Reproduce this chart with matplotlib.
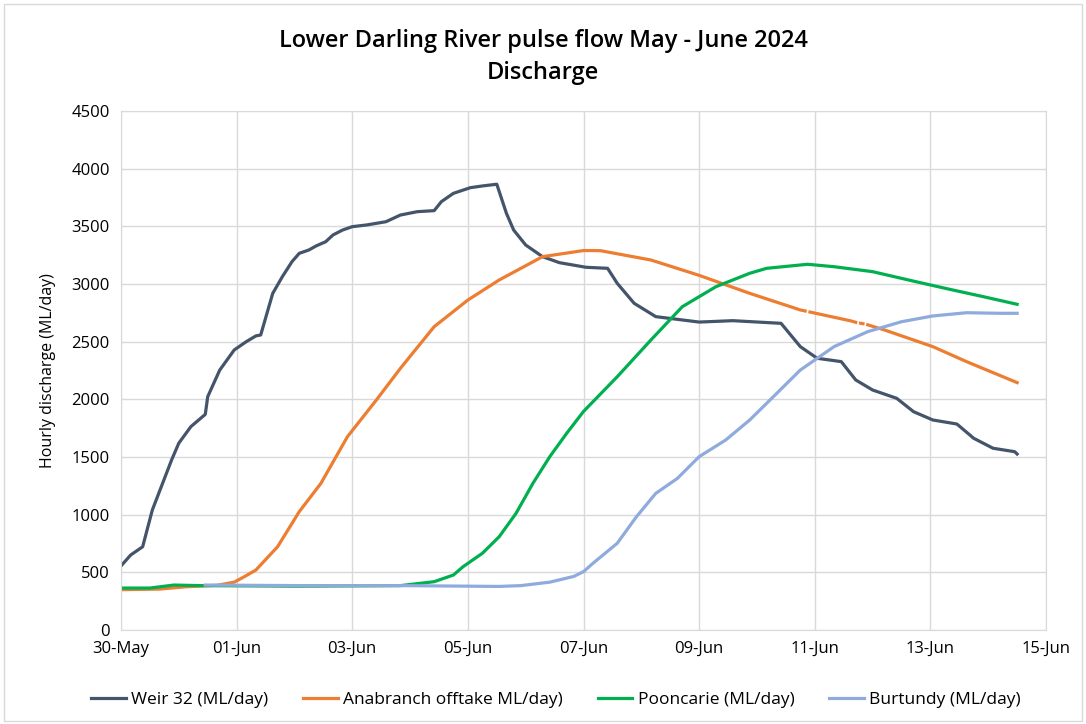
import matplotlib
matplotlib.use("Agg")
import matplotlib.pyplot as plt
import matplotlib.dates as mdates
from matplotlib.patches import Rectangle
import numpy as np
import pandas as pd

# hours after 30-May-2024 00:00, values in ML/day
weir_hours = [0, 4, 9, 13, 21, 24, 29, 35, 36, 41, 47, 52, 56, 58, 61, 63, 67, 71, 74, 78,
              81, 85, 88, 92, 96, 102, 110, 116, 123, 130, 133, 138, 145, 150, 156, 160, 163,
              168, 175, 182, 193, 202, 206, 213, 222, 240, 254, 274, 282, 289, 299, 305, 312,
              322, 329, 337, 347, 354, 362, 371, 372]
weir_vals = [555, 650, 722, 1040, 1474, 1620, 1763, 1870, 2023, 2254, 2428, 2500, 2550, 2558,
             2775, 2919, 3064, 3194, 3266, 3295, 3330, 3367, 3425, 3468, 3497, 3512, 3540,
             3598, 3627, 3636, 3714, 3786, 3835, 3850, 3865, 3613, 3468, 3338, 3237, 3185,
             3145, 3136, 3006, 2833, 2717, 2670, 2682, 2659, 2457, 2356, 2327, 2168, 2081,
             2009, 1893, 1821, 1786, 1662, 1576, 1546, 1526]

# NaN = missing hours in the offtake record
ana_hours = [0, 16, 27, 40, 47, 51, 56, 65, 74, 83, 94, 106, 116, 130, 144, 157, 175, 192,
             199, 220, 240, 261, 282, 284, 285, 286, 303, 305, 306, 307, 308, 309, 310, 317,
             337, 351, 372]
ana_vals = [350, 355, 375, 388, 415, 460, 520, 722, 1026, 1272, 1676, 1994, 2269, 2630, 2861,
            3035, 3237, 3290, 3289, 3208, 3075, 2919, 2775, 2766, np.nan, 2757, 2680, 2668,
            np.nan, 2660, 2656, np.nan, 2646, 2601, 2457, 2327, 2145]

poon_hours = [0, 12, 22, 33, 74, 116, 130, 138, 142, 150, 157, 164, 171, 178, 185, 192, 206,
              220, 233, 247, 261, 268, 285, 296, 312, 330, 344, 358, 372]
poon_vals = [364, 364, 390, 385, 380, 385, 419, 477, 549, 665, 809, 1012, 1272, 1503, 1705,
             1895, 2196, 2515, 2803, 2977, 3093, 3136, 3171, 3150, 3107, 3020, 2954, 2890, 2824]

burt_hours = [35, 74, 116, 157, 166, 178, 188, 192, 196, 206, 214, 222, 231, 240, 251, 261,
              268, 282, 296, 310, 324, 337, 351, 365, 372]
burt_vals = [390, 385, 385, 378, 385, 415, 465, 506, 580, 752, 983, 1185, 1315, 1503, 1647,
             1821, 1965, 2254, 2457, 2587, 2673, 2723, 2751, 2746, 2746]

start = pd.Timestamp("2024-05-30")


def to_time(hours):
    return start + pd.to_timedelta(hours, unit="h")


plt.rcParams['font.family'] = ['Open Sans', 'DejaVu Sans']

fig = plt.figure(figsize=(10.86, 7.24), dpi=100)
ax = fig.add_axes([0.1114, 0.1298, 0.8518, 0.7169])

fig.patches.append(Rectangle((0.004, 0.004), 0.992, 0.990, transform=fig.transFigure,
                             fill=False, edgecolor="#D9D9D9", linewidth=1.0))

ax.plot(to_time(weir_hours), weir_vals, color="#44546A", lw=2.3, label="Weir 32 (ML/day)")
ax.plot(to_time(ana_hours), ana_vals, color="#ED7D31", lw=2.3, label="Anabranch offtake ML/day)")
ax.plot(to_time(poon_hours), poon_vals, color="#00B050", lw=2.3, label="Pooncarie (ML/day)")
ax.plot(to_time(burt_hours), burt_vals, color="#8FAADC", lw=2.3, label="Burtundy (ML/day)")

ax.set_xlim(pd.Timestamp("2024-05-30"), pd.Timestamp("2024-06-15"))
ax.set_ylim(0, 4500)
ax.set_yticks(np.arange(0, 4501, 500))
ax.xaxis.set_major_locator(mdates.DayLocator(interval=2))
ax.xaxis.set_major_formatter(mdates.DateFormatter("%d-%b"))

ax.grid(True, color="#D9D9D9", linewidth=1.0)
ax.set_axisbelow(True)
for s in ax.spines.values():
    s.set_color("#D9D9D9")
ax.tick_params(length=0, labelsize=12, pad=8)

ax.set_ylabel("Hourly discharge (ML/day)", fontsize=11.5, labelpad=11)
fig.text(0.5, 0.943, "Lower Darling River pulse flow May - June 2024", ha="center",
         va="center", fontsize=17, fontweight="semibold")
fig.text(0.5, 0.899, "Discharge", ha="center", va="center", fontsize=17,
         fontweight="semibold")

fig.legend(loc="center", bbox_to_anchor=(0.512, 0.033), ncol=4, frameon=False,
           fontsize=12.5, handlelength=2.0, handletextpad=0.3, columnspacing=2.0)

fig.savefig("out.png", dpi=100)
